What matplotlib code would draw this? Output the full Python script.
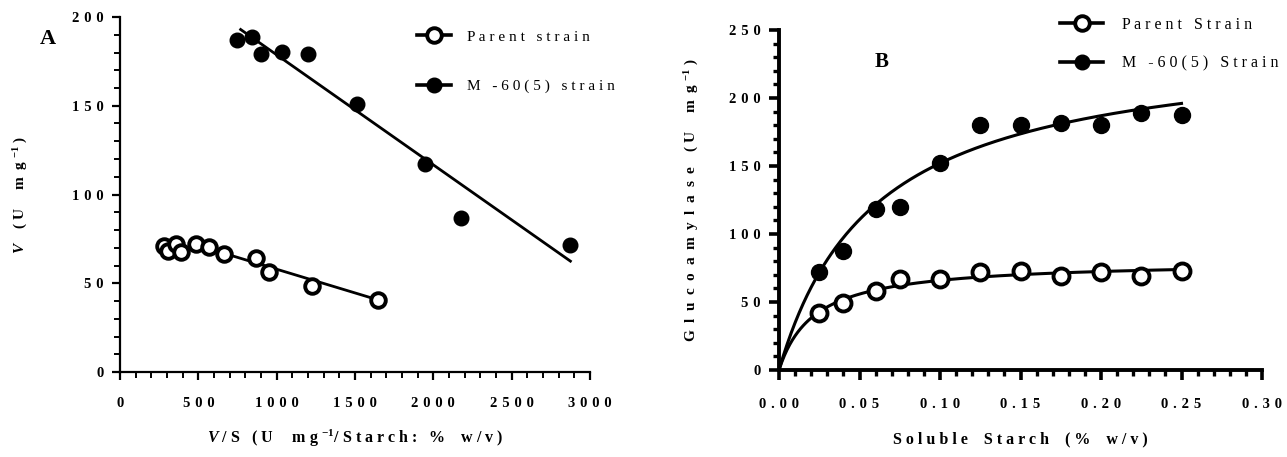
import numpy as np
import matplotlib
matplotlib.use("Agg")
import matplotlib.pyplot as plt
from matplotlib.lines import Line2D
from matplotlib.ticker import MultipleLocator, FuncFormatter

# Panel A: Eadie-Hofstee plot, V against V/S
parent_vs = [279, 305, 357, 391, 483, 566, 665, 866, 952, 1224, 1644]
parent_v_a = [71.0, 68.4, 72.1, 67.8, 71.9, 70.6, 66.3, 64.4, 56.2, 48.5, 40.6]
mutant_vs = [749, 840, 900, 1031, 1200, 1513, 1949, 2178, 2875]
mutant_v_a = [186.8, 188.7, 179.1, 180.3, 179.3, 151.1, 117.1, 86.7, 71.5]

# linear fits V = Vmax - Km * (V/S) and the V/S range each line covers
parent_fit_a = dict(vmax=84.6, km=0.0267, xmin=640, xmax=1690)
mutant_fit_a = dict(vmax=240.7, km=0.062, xmin=770, xmax=2875)

# Panel B: Michaelis-Menten plot, activity against substrate
starch = [0.025, 0.04, 0.06, 0.075, 0.1, 0.125, 0.15, 0.175, 0.2, 0.225, 0.25]
parent_v_b = [42.0, 49.5, 58.2, 66.9, 66.9, 71.9, 73.1, 69.4, 72.4, 68.9, 72.6]
mutant_v_b = [72.2, 87.5, 118.2, 119.7, 152.1, 180.3, 179.8, 181.6, 179.8, 188.9, 187.2]

parent_fit_b = dict(vmax=80.4, km=0.022)
mutant_fit_b = dict(vmax=242.9, km=0.0598)

plt.rcParams['font.family'] = ['Liberation Serif', 'DejaVu Serif']
plt.rcParams['mathtext.fontset'] = 'custom'
plt.rcParams['mathtext.rm'] = 'Liberation Serif:bold'
plt.rcParams['mathtext.it'] = 'Liberation Serif:italic:bold'
plt.rcParams['mathtext.bf'] = 'Liberation Serif:bold'

HAIR = "\u200a"
DIGIT_GAP = " " + HAIR


def spaced(text, gap=" ", word_gap="   "):
    # letter-spaced text, the way the instrument software sets its labels
    words = text.split(" ")
    return word_gap.join(gap.join(w) for w in words)


def open_style(ms=10.5):
    return dict(marker='o', ms=ms, mfc='white', mec='black', mew=2.8)


def filled_style(ms=10):
    return dict(marker='o', ms=ms, mfc='black', mec='black')


fig = plt.figure(figsize=(12.87, 4.57), dpi=100)

# ---------------- panel A ----------------
ax1 = fig.add_axes([120 / 1287, 85 / 457, 470 / 1287, 355 / 457])
ax1.plot(parent_vs, parent_v_a, ls='none', **open_style(10.5), zorder=3)
ax1.plot(mutant_vs, mutant_v_a, ls='none', **filled_style(10.5), zorder=3)
for fit in (parent_fit_a, mutant_fit_a):
    xs = np.array([fit['xmin'], fit['xmax']])
    ax1.plot(xs, fit['vmax'] - fit['km'] * xs, color='black', lw=2.0, zorder=2)

ax1.set_xlim(0, 3000)
ax1.set_ylim(0, 200)
ax1.xaxis.set_major_locator(MultipleLocator(500))
ax1.xaxis.set_minor_locator(MultipleLocator(100))
ax1.yaxis.set_major_locator(MultipleLocator(50))
ax1.yaxis.set_minor_locator(MultipleLocator(10))
ax1.xaxis.set_major_formatter(FuncFormatter(lambda v, p: spaced(f"{v:g}", DIGIT_GAP)))
ax1.yaxis.set_major_formatter(FuncFormatter(lambda v, p: spaced(f"{v:g}", DIGIT_GAP)))
for side in ('top', 'right'):
    ax1.spines[side].set_visible(False)
for side in ('left', 'bottom'):
    ax1.spines[side].set_linewidth(1.6)
ax1.tick_params(which='major', direction='out', length=6, width=1.6,
                labelsize=10.5, pad=6)
ax1.tick_params(axis='x', which='major', pad=12)
ax1.tick_params(which='minor', direction='out', length=4, width=1.4)
for lab in ax1.get_xticklabels() + ax1.get_yticklabels():
    lab.set_fontweight('bold')

ax1.set_xlabel(r"$\mathit{V}$ / S   ( U     m g $^{-1}$/ S t a r c h :   %    w / v )",
               fontsize=11.5, fontweight='bold', labelpad=13)
ax1.set_ylabel(r"$\mathit{V}$    ( U     m  g $^{-1}$ )",
               fontsize=11, fontweight='bold', labelpad=30)
ax1.text(-0.153, 0.938, "A", transform=ax1.transAxes, fontsize=16,
         fontweight='bold', ha='center', va='center')

handles_a = [Line2D([], [], color='black', lw=2.6, **open_style(10.5)),
             Line2D([], [], color='black', lw=2.6, **filled_style(10.5))]
ax1.legend(handles_a, [spaced("Parent strain"), spaced("M -60(5) strain", word_gap="   ")],
           loc='upper left', bbox_to_anchor=(417 / 1287, 1 - 30 / 457),
           bbox_transform=fig.transFigure, frameon=False,
           fontsize=11, handlelength=2.2, handletextpad=1.1, labelspacing=2.35,
           borderaxespad=0.0, borderpad=0.0)

# ---------------- panel B ----------------
ax2 = fig.add_axes([779 / 1287, 87 / 457, 483 / 1287, 340 / 457])
ax2.plot(starch, parent_v_b, ls='none', **open_style(11.5), zorder=3)
ax2.plot(starch, mutant_v_b, ls='none', **filled_style(11.5), zorder=3)
s_curve = np.linspace(0, 0.25, 300)
for fit in (parent_fit_b, mutant_fit_b):
    ax2.plot(s_curve, fit['vmax'] * s_curve / (fit['km'] + s_curve),
             color='black', lw=2.2, zorder=2)

ax2.set_xlim(0, 0.30)
ax2.set_ylim(0, 250)
ax2.xaxis.set_major_locator(MultipleLocator(0.05))
ax2.xaxis.set_minor_locator(MultipleLocator(0.01))
ax2.yaxis.set_major_locator(MultipleLocator(50))
ax2.yaxis.set_minor_locator(MultipleLocator(10))
ax2.xaxis.set_major_formatter(FuncFormatter(lambda v, p: spaced(f"{v:.2f}", DIGIT_GAP)))
ax2.yaxis.set_major_formatter(FuncFormatter(lambda v, p: spaced(f"{v:g}", DIGIT_GAP)))
for side in ('top', 'right'):
    ax2.spines[side].set_visible(False)
for side in ('left', 'bottom'):
    ax2.spines[side].set_linewidth(2.8)
ax2.tick_params(which='major', direction='out', length=7, width=2.6,
                labelsize=10.5, pad=6)
ax2.tick_params(axis='x', which='major', pad=13)
ax2.tick_params(which='minor', direction='out', length=4.5, width=2.4)
for lab in ax2.get_xticklabels() + ax2.get_yticklabels():
    lab.set_fontweight('bold')

ax2.set_xlabel(spaced("Soluble Starch (% w/v)", " ", "    "),
               fontsize=11.5, fontweight='bold', labelpad=15)
ax2.set_ylabel(spaced("Glucoamylase", "  ") + "    ( U     m  g $^{-1}$ )",
               fontsize=11, fontweight='bold', labelpad=20)
ax2.text(0.213, 0.906, "B", transform=ax2.transAxes, fontsize=15,
         fontweight='bold', ha='center', va='center')

handles_b = [Line2D([], [], color='black', lw=2.6, **open_style(10.5)),
             Line2D([], [], color='black', lw=2.6, **filled_style(10.5))]
ax2.legend(handles_b, [spaced("Parent Strain"), spaced("M -60(5) Strain", word_gap="   ")],
           loc='upper left', bbox_to_anchor=(1060 / 1287, 1 - 17 / 457),
           bbox_transform=fig.transFigure, frameon=False,
           fontsize=11.5, handlelength=2.7, handletextpad=1.2, labelspacing=1.4,
           borderaxespad=0.0, borderpad=0.0)

fig.savefig("out.png", dpi=100)
